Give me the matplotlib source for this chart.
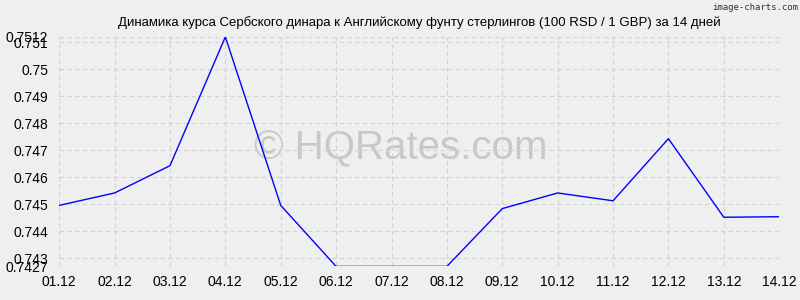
import numpy as np
import matplotlib
matplotlib.use('Agg')
import matplotlib.pyplot as plt

######################################
# data
######################################
dates = ['01.12', '02.12', '03.12', '04.12', '05.12', '06.12', '07.12',
         '08.12', '09.12', '10.12', '11.12', '12.12', '13.12', '14.12']
rates = [0.74496, 0.74542, 0.74643, 0.7512, 0.74496, 0.7427, 0.7427,
         0.7427, 0.74484, 0.74542, 0.74513, 0.74743, 0.74452, 0.74454]
y_ticks = [0.7427, 0.743, 0.744, 0.745, 0.746, 0.747, 0.748, 0.749, 0.750, 0.751, 0.7512]
y_labels = ['0.7427', '0.743', '0.744', '0.745', '0.746', '0.747', '0.748', '0.749', '0.75', '0.751', '0.7512']

plt.rcParams['font.family'] = ['Liberation Sans', 'DejaVu Sans']

fig = plt.figure(figsize=(8, 3), dpi=100, facecolor='#efefef')
ax = fig.add_axes([0.074, 0.112, 0.900, 0.765])
ax.set_facecolor('#efefef')

x = np.arange(len(dates))
ax.plot(x, rates, color='#0000ff', lw=1)

ax.set_xlim(0, len(dates) - 1)
ax.set_ylim(y_ticks[0], y_ticks[-1])
ax.set_xticks(x)
ax.set_xticklabels(dates)
ax.set_yticks(y_ticks)
ax.set_yticklabels(y_labels)
ax.tick_params(length=0, labelsize=10)
ax.tick_params(axis='y', pad=8)
ax.tick_params(axis='x', pad=6)
ax.grid(True, color='#d2d2d2', ls=(0, (4, 3)), lw=0.8)
for s in ax.spines.values():
    s.set_visible(False)

ax.set_title('Динамика курса Сербского динара к Английскому фунту стерлингов (100 RSD / 1 GBP) за 14 дней',
             fontsize=9.5, pad=8)

# watermark
ax.text(0.474, 0.516, '© HQRates.com', transform=ax.transAxes, fontsize=29,
        color='#c8c8c8', ha='center', va='center', zorder=0)
fig.text(0.998, 0.99, 'image-charts.com', fontsize=6.5, color='#333333',
         ha='right', va='top', family='DejaVu Sans Mono')

fig.savefig('out.png', dpi=100, facecolor=fig.get_facecolor())
